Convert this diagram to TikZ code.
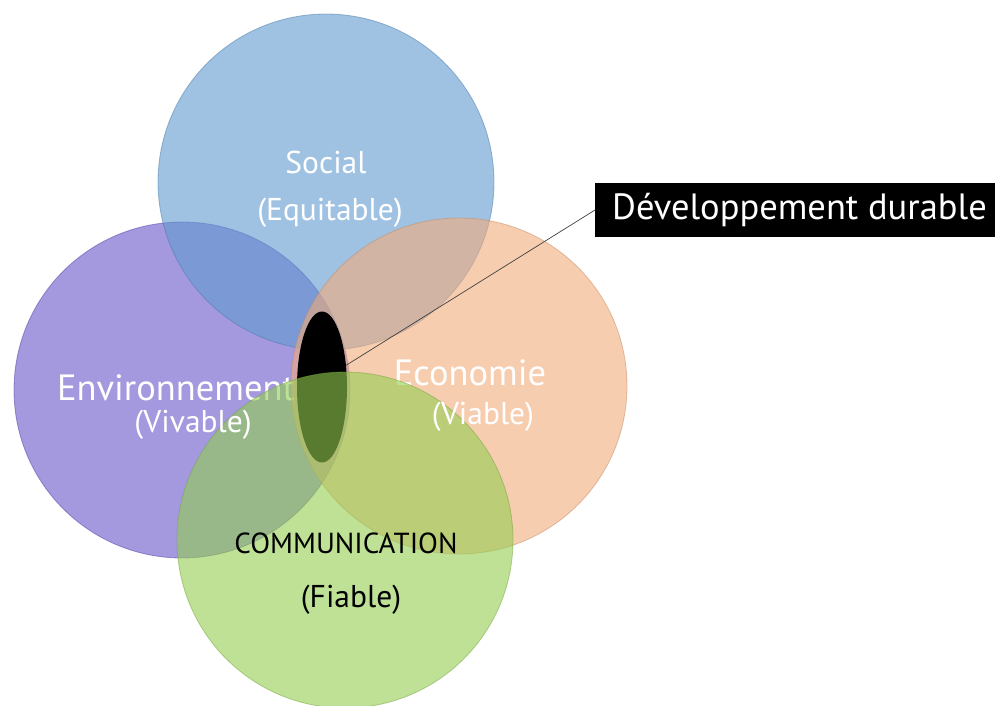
\documentclass[tikz,border=0pt]{standalone}
\usepackage{fontspec}
\setmainfont{PT Sans}
\usetikzlibrary{shapes.geometric}
\definecolor{cSoc}{RGB}{95,153,208}
\definecolor{cEnv}{RGB}{103,83,200}
\definecolor{cEco}{RGB}{242,172,123}
\definecolor{cCom}{RGB}{147,205,80}
\tikzset{
  ring/.style={circle, minimum size=336pt, inner sep=0pt, fill opacity=0.6, draw opacity=0.5, line width=0.8pt},
  wlabel/.style={text=white, inner sep=0pt, font=\fontsize{31.5}{34}\selectfont},
  biglabel/.style={text=white, inner sep=0pt, font=\fontsize{36.5}{40}\selectfont},
  blabel/.style={text=black, inner sep=0pt, font=\fontsize{29}{32}\selectfont},
}
\begin{document}
\begin{tikzpicture}[x=1pt,y=-1pt]
\useasboundingbox (0,0) rectangle (995,706);
\clip (0,0) rectangle (995,706);
% Environnement
\node[ring, fill=cEnv, draw=cEnv!80!black] (env) at (182,390) {};
\node[biglabel] (envt) at (176,388) {Environnement};
% Social
\node[ring, fill=cSoc, draw=cSoc!80!black] (soc) at (326,182) {};
\node[wlabel] (soct) at (326,162) {Social};
\node[wlabel] (socs) at (330,213) {(Equitable)};
% Economie
\node[ring, fill=cEco, draw=cEco!80!black] (eco) at (459,386) {};
\node[biglabel] (ecot) at (470,373) {Economie};
% Developpement durable
\node[ellipse, fill=black, minimum width=50pt, minimum height=151pt, inner sep=0pt] (ell) at (322,387) {};
% Communication
\node[ring, fill=cCom, draw=cCom!80!black] (com) at (345,540) {};
\node[blabel] (comt) at (346,543) {COMMUNICATION};
\node[blabel, font=\fontsize{31.5}{34}\selectfont] (coms) at (351,600) {(Fiable)};
% sub-labels on top
\node[wlabel] (envs) at (193,425) {(Vivable)};
\node[wlabel] (ecos) at (483,417) {(Viable)};
% label box
\node[fill=black, text=white, anchor=west, minimum height=54pt, inner xsep=17pt, inner ysep=0pt, font=\fontsize{36.5}{40}\selectfont] (dd) at (595,210) {Développement durable};
\draw[line width=0.7pt, draw=black!75] (ell.42) -- (dd.west);
\end{tikzpicture}
\end{document}
